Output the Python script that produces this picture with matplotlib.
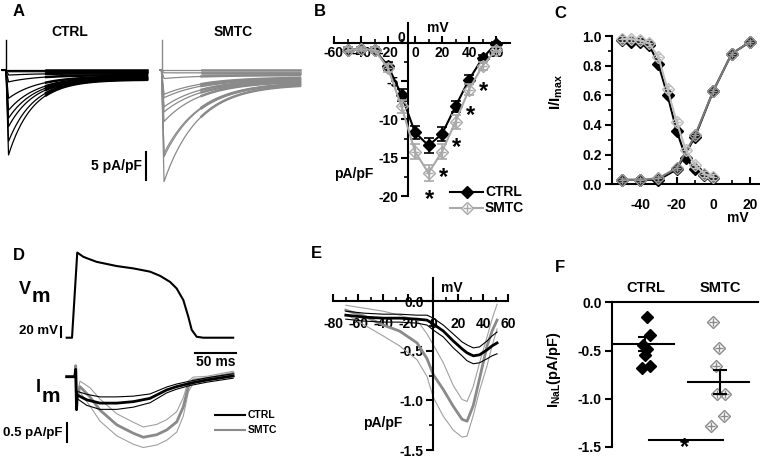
import numpy as np
import matplotlib
matplotlib.use('Agg')
import matplotlib.pyplot as plt
from matplotlib.lines import Line2D

W, H = 760, 458

# ---------------- data ----------------
# A: Na current families (pA/pF), one entry per trace
a_ctrl_peak = [0, 0.3, 0.9, 2.1, 5.0, 7.1, 8.5, 10.0, 12.6, 15.0]
a_ctrl_late = [0, 0.3, 0.6, 0.9, 1.1, 1.3, 1.4, 1.5, 1.6, 1.7]
a_ctrl_tau = [30, 30, 30, 30, 30, 28, 27, 26, 25, 24]
a_smtc_peak = [0, 0.5, 1.5, 4.3, 4.9, 6.5, 7.4, 9.1, 14.7, 15.3, 19.7]
a_smtc_late = [0, 0.5, 0.9, 1.3, 1.5, 1.7, 1.9, 2.0, 2.2, 2.3, 2.5]
a_smtc_tau = [40, 40, 40, 40, 40, 38, 38, 37, 36, 35, 34]

# B: I-V relation
b_mv = [-50, -40, -30, -20, -10, 0, 10, 20, 30, 40, 50, 60]
b_ctrl = [-0.9, -0.8, -0.9, -3.0, -6.8, -11.7, -13.4, -11.9, -8.3, -4.8, -2.0, -0.1]
b_ctrl_err = [0.3, 0.3, 0.3, 0.5, 0.8, 0.9, 1.0, 0.9, 0.7, 0.6, 0.4, 0.2]
b_smtc = [-0.9, -0.8, -0.9, -3.3, -8.3, -14.2, -17.0, -14.2, -10.3, -6.1, -3.0, -0.9]
b_smtc_err = [0.3, 0.3, 0.3, 0.5, 0.9, 1.0, 1.0, 1.0, 0.9, 0.7, 0.5, 0.3]
b_sig_mv = [10, 20, 30, 40, 50]

# C: steady-state inactivation and activation
c_inact_mv = [-50, -45, -40, -35, -30, -25, -20, -15, -10, -5, 0]
c_inact_ctrl = [0.97, 0.96, 0.96, 0.94, 0.81, 0.60, 0.36, 0.18, 0.10, 0.06, 0.04]
c_inact_smtc = [0.98, 0.98, 0.97, 0.95, 0.86, 0.64, 0.42, 0.23, 0.13, 0.07, 0.05]
c_act_mv = [-50, -40, -30, -20, -10, 0, 10, 20]
c_act_ctrl = [0.03, 0.03, 0.03, 0.10, 0.32, 0.63, 0.88, 0.96]
c_act_smtc = [0.03, 0.03, 0.04, 0.11, 0.33, 0.63, 0.88, 0.96]

# D: action potential clamp (ms, mV) and late current (pA/pF)
d_ap_t = [0, 6.5, 12.9, 20.2, 24.4, 36.6, 61, 81.2, 101.6, 113.8, 126, 134, 142.2, 148.3,
          152.4, 158.5, 166.6, 203]
d_ap_v = [-85, -85, 98, 89, 86, 78, 69, 64, 57, 48, 35, 21, -4, -40, -68, -83, -85, -85]
d_ctrl_t = [0, 10, 11, 12, 13, 24.4, 40.6, 61, 81.2, 101.6, 122, 134, 150.4, 170.7, 203]
d_ctrl_i = [0, 0, 0.2, -0.9, -0.5, -0.63, -0.72, -0.72, -0.68, -0.59, -0.36, -0.27, -0.18,
            -0.09, 0.02]
d_ctrl_sem = [0, 0, 0, 0, 0.1, 0.15, 0.17, 0.17, 0.15, 0.12, 0.08, 0.07, 0.06, 0.06, 0.06]
d_smtc_t = [0, 10, 11, 12, 16.2, 28.4, 40.6, 61, 81.2, 93.4, 109.8, 122, 134.2, 142.2,
            148.3, 154.4, 170.7, 203]
d_smtc_i = [0, 0, 0.3, -0.6, -0.27, -0.55, -0.91, -1.31, -1.54, -1.65, -1.58, -1.45, -1.23,
            -0.82, -0.27, -0.09, -0.05, 0.09]
d_smtc_sem = [0, 0, 0, 0, 0.15, 0.25, 0.3, 0.3, 0.3, 0.28, 0.28, 0.28, 0.28, 0.25, 0.15,
              0.08, 0.06, 0.06]

# E: ramp I-V of late current
e_mv = [-70, -55, -40, -27, -13, -5, 0, 8, 16, 23, 27, 32, 37, 43, 47, 51]
e_ctrl = [-0.14, -0.16, -0.17, -0.17, -0.18, -0.19, -0.23, -0.30, -0.40, -0.48, -0.52, -0.55,
          -0.54, -0.49, -0.45, -0.42]
e_ctrl_sem = [0.04, 0.04, 0.04, 0.04, 0.04, 0.05, 0.06, 0.06, 0.07, 0.07, 0.08, 0.08, 0.08,
              0.09, 0.10, 0.11]
e_smtc = [-0.09, -0.15, -0.24, -0.30, -0.42, -0.58, -0.74, -0.89, -1.06, -1.19, -1.21, -1.05,
          -0.78, -0.45, -0.30, -0.19]
e_smtc_hi = [-0.04, -0.07, -0.10, -0.14, -0.19, -0.33, -0.44, -0.62, -0.85, -0.99, -1.01,
             -0.86, -0.62, -0.36, -0.18, -0.03]
e_smtc_lo = [-0.13, -0.24, -0.35, -0.45, -0.59, -0.76, -0.97, -1.16, -1.30, -1.37, -1.36,
             -1.15, -0.90, -0.65, -0.45, -0.28]

# F: late current per cell
f_groups = ['CTRL', 'SMTC']
f_ctrl = [-0.15, -0.34, -0.44, -0.48, -0.55, -0.66, -0.68]
f_ctrl_jit = [0.02, 0.06, -0.03, 0.02, 0.0, 0.06, -0.05]
f_smtc = [-0.20, -0.47, -0.66, -0.95, -0.955, -1.18, -1.285]
f_smtc_jit = [-0.10, -0.015, -0.065, -0.04, 0.06, 0.05, -0.13]
f_mean = [-0.43, -0.825]
f_sem = [0.075, 0.125]

GREY = '#8a8a8a'
LGREY = '#a8a8a8'

plt.rcParams['font.family'] = ['Liberation Sans', 'DejaVu Sans']
plt.rcParams['font.weight'] = 'bold'
plt.rcParams['font.size'] = 10
plt.rcParams['axes.linewidth'] = 1.5
plt.rcParams['axes.unicode_minus'] = False
plt.rcParams['mathtext.fontset'] = 'custom'
plt.rcParams['mathtext.rm'] = 'Liberation Sans:bold'
plt.rcParams['mathtext.it'] = 'Liberation Sans:bold'
plt.rcParams['mathtext.bf'] = 'Liberation Sans:bold'

fig = plt.figure(figsize=(7.6, 4.58), dpi=100)


def px_axes(l, t, r, b):
    ax = fig.add_axes([l / W, 1 - b / H, (r - l) / W, (b - t) / H])
    ax.patch.set_alpha(0)
    return ax


def ptext(x, y, s, **kw):
    kw.setdefault('ha', 'center')
    kw.setdefault('va', 'center')
    fig.text(x / W, 1 - y / H, s, **kw)


def pline(xs, ys, **kw):
    fig.add_artist(Line2D([x / W for x in xs], [1 - y / H for y in ys], **kw))


def smtc_marker(ax, x, y, color, ms=6, **kw):
    ax.plot(x, y, ls='none', marker='D', ms=ms, mfc='none', mec=color, mew=1.0, **kw)
    ax.plot(x, y, ls='none', marker='+', ms=ms, mec=color, mew=1.0, **kw)


# ---------------- A ----------------
def draw_family(ax, t, t0, peaks, lates, taus, color):
    for pk, lt, tau in zip(peaks, lates, taus):
        y = np.zeros_like(t)
        rise = 2.5
        up = (t >= t0) & (t < t0 + rise)
        y[up] = -pk * (t[up] - t0) / rise
        dec = t >= t0 + rise
        y[dec] = -(pk - lt) * np.exp(-(t[dec] - t0 - rise) / tau) - lt
        ax.plot(t, y, color=color, lw=0.9)
        tail = t > t0 + 40
        ax.plot(t[tail], y[tail], color=color, lw=1.8)
    ax.plot([t0, t0], [0, 5.3], color=color, lw=1.0)


axA1 = px_axes(0, 35, 150, 195)
axA1.set_xlim(0, 150)
axA1.set_ylim(-22.05, 6.17)
axA1.axis('off')
draw_family(axA1, np.linspace(2, 147, 800), 6, a_ctrl_peak, a_ctrl_late, a_ctrl_tau, 'black')
axA1.plot([145.7, 145.7], [-14.4, -19.4], color='black', lw=1.5)

axA2 = px_axes(150, 35, 310, 195)
axA2.set_xlim(0, 160)
axA2.set_ylim(-22.05, 6.17)
axA2.axis('off')
draw_family(axA2, np.linspace(10, 150, 800), 11.5, a_smtc_peak, a_smtc_late, a_smtc_tau, GREY)

ptext(19, 11.5, 'A', fontsize=12)
ptext(70, 32, 'CTRL', fontsize=10)
ptext(233, 32, 'SMTC', fontsize=10)
ptext(142, 166, '5 pA/pF', fontsize=10, ha='right')

# ---------------- B ----------------
axB = px_axes(334, 23, 509.5, 196)
axB.set_xlim(-60, 70)
axB.set_ylim(-20, 2.6)
axB.spines['top'].set_visible(False)
axB.spines['right'].set_visible(False)
axB.spines['left'].set_position(('data', -5))
axB.spines['bottom'].set_position(('data', 0))
axB.set_xticks(range(-60, 61, 20))
axB.set_xticks(range(-50, 70, 20), minor=True)
axB.set_yticks([-20, -15, -10, -5, 0])
axB.set_yticklabels(['-20', '-15', '-10', '-5', ''])
axB.set_yticks(np.arange(-17.5, 2, 5), minor=True)
axB.tick_params(axis='x', which='major', direction='in', length=5, width=1.5, pad=2)
axB.tick_params(axis='x', which='minor', direction='in', length=3, width=1.2)
axB.tick_params(axis='y', which='major', direction='out', length=5, width=1.5, pad=2)
axB.tick_params(axis='y', which='minor', direction='out', length=3, width=1.2)

axB.errorbar(b_mv, b_ctrl, yerr=b_ctrl_err, color='black', marker='D', ms=6, lw=1.5,
             capsize=3.5, elinewidth=1.2, capthick=1.2, zorder=3)
axB.errorbar(b_mv, b_smtc, yerr=b_smtc_err, color=LGREY, lw=1.5, capsize=3.5,
             elinewidth=1.2, capthick=1.2, zorder=4)
smtc_marker(axB, b_mv, b_smtc, LGREY, zorder=5)
for mv in b_sig_mv:
    yv = b_smtc[b_mv.index(mv)]
    axB.text(mv + 1, yv - 3.4, '*', fontsize=17, ha='center', va='center')

ptext(320, 12, 'B', fontsize=12)
ptext(401, 38, '0', fontsize=10)
ptext(437.5, 28, 'mV', fontsize=10)
ptext(353.5, 174, 'pA/pF', fontsize=10)
pline([450, 483], [191.5, 191.5], color='black', lw=1.5)
fig.add_artist(Line2D([466.5 / W], [1 - 191.5 / H], color='black', marker='D', ms=6, ls='none'))
ptext(485, 191.5, 'CTRL', fontsize=10, ha='left')
pline([450, 483], [208.5, 208.5], color=LGREY, lw=1.5)
fig.add_artist(Line2D([466.5 / W], [1 - 208.5 / H], color=LGREY, marker='D', ms=6, mfc='white',
                      mew=1.0, ls='none'))
fig.add_artist(Line2D([466.5 / W], [1 - 208.5 / H], color=LGREY, marker='+', ms=6, mew=1.0,
                      ls='none'))
ptext(485, 208.5, 'SMTC', fontsize=10, ha='left')

# ---------------- C ----------------
axC = px_axes(611.7, 36, 760, 184.3)
axC.set_xlim(-55.5, 25.5)
axC.set_ylim(0, 1.0)
axC.spines['top'].set_visible(False)
axC.spines['right'].set_visible(False)
axC.set_xticks([-40, -20, 0, 20])
axC.set_xticks([-50, -30, -10, 10], minor=True)
axC.set_yticks(np.arange(0, 1.01, 0.2))
axC.set_yticks(np.arange(0.1, 1.0, 0.2), minor=True)
axC.tick_params(axis='x', which='major', direction='in', length=5, width=1.5, pad=10)
axC.tick_params(axis='x', which='minor', direction='in', length=3, width=1.2)
axC.tick_params(axis='y', which='major', direction='out', length=5, width=1.5, pad=2)
axC.tick_params(axis='y', which='minor', direction='out', length=3, width=1.2)

ekw = dict(capsize=2.5, elinewidth=1.0, capthick=1.0, clip_on=False)
axC.errorbar(c_inact_mv, c_inact_ctrl, yerr=0.02, color='black', marker='D', ms=6, lw=1.5,
             zorder=3, **ekw)
axC.errorbar(c_act_mv, c_act_ctrl, yerr=0.015, color='black', marker='D', ms=6, lw=1.5,
             zorder=3, **ekw)
axC.errorbar(c_inact_mv, c_inact_smtc, yerr=0.02, color='#bdbdbd', lw=1.5, zorder=4, **ekw)
axC.errorbar(c_act_mv, c_act_smtc, yerr=0.015, color='#7a7a7a', lw=1.5, zorder=4, **ekw)
smtc_marker(axC, c_inact_mv, c_inact_smtc, '#bdbdbd', clip_on=False, zorder=5)
smtc_marker(axC, c_act_mv, c_act_smtc, '#9a9a9a', clip_on=False, zorder=5)

ptext(560, 13, 'C', fontsize=12)
ptext(556, 92, 'I/I$_{max}$', fontsize=11, rotation=90)
ptext(738, 218, 'mV', fontsize=10)

# ---------------- D ----------------
axDv = px_axes(0, 240, 250, 360)
axDv.set_xlim(-81.3, 223.5)
axDv.set_ylim(-132.9, 125)
axDv.axis('off')
axDv.plot(d_ap_t, d_ap_v, color='black', lw=1.5)
axDv.plot([-7.0, -7.0], [-83, -63], color='black', lw=1.5)
axDv.plot([156.5, 206.5], [-117.3, -117.3], color='black', lw=1.5)

axDi = px_axes(0, 360, 250, 458)
axDi.set_xlim(-81.3, 223.5)
axDi.set_ylim(-2.215, 0.455)
axDi.axis('off')
dct = np.array(d_ctrl_i)
dcs = np.array(d_ctrl_sem)
dst = np.array(d_smtc_i)
dss = np.array(d_smtc_sem)
axDi.plot(d_smtc_t, dst + dss, color='#a0a0a0', lw=0.8)
axDi.plot(d_smtc_t, dst - dss, color='#a0a0a0', lw=0.8)
axDi.plot(d_smtc_t, dst, color=GREY, lw=2.0)
axDi.plot(d_ctrl_t, dct + dcs, color='black', lw=0.8)
axDi.plot(d_ctrl_t, dct - dcs, color='black', lw=0.8)
axDi.plot(d_ctrl_t, dct, color='black', lw=2.0)
axDi.plot([0, 0], [-1.27, -1.77], color='black', lw=1.5)

ptext(18.5, 255.5, 'D', fontsize=12)
ptext(24.5, 289, 'V', fontsize=13)
ptext(40.5, 296, 'm', fontsize=15)
ptext(37.8, 388, 'I', fontsize=13)
ptext(50.5, 397, 'm', fontsize=15)
ptext(58, 331, '20 mV', fontsize=9.5, ha='right')
ptext(215.5, 362, '50 ms', fontsize=10)
ptext(63, 433, '0.5 pA/pF', fontsize=9.5, ha='right')
pline([215, 245], [415, 415], color='black', lw=1.5)
ptext(248, 415, 'CTRL', fontsize=7.5, ha='left')
pline([215, 245], [430, 430], color=GREY, lw=1.5)
ptext(248, 430, 'SMTC', fontsize=7.5, ha='left')

# ---------------- E ----------------
axE = px_axes(333.3, 278, 508.3, 450)
axE.set_xlim(-80, 60)
axE.set_ylim(-1.5, 0.235)
axE.spines['top'].set_visible(False)
axE.spines['right'].set_visible(False)
axE.spines['left'].set_position(('data', 0))
axE.spines['bottom'].set_position(('data', 0))
axE.set_xticks(range(-80, 61, 20))
axE.set_xticks(range(-70, 60, 20), minor=True)
axE.set_yticks([-1.5, -1.0, -0.5, 0.0])
axE.set_yticks([-1.25, -0.75, -0.25], minor=True)
axE.tick_params(axis='x', which='major', direction='in', length=5, width=1.5, pad=11)
axE.tick_params(axis='x', which='minor', direction='in', length=3, width=1.2)
axE.tick_params(axis='y', which='major', direction='out', length=5, width=1.5, pad=2)
axE.tick_params(axis='y', which='minor', direction='out', length=3, width=1.2)
ect = np.array(e_ctrl)
ecs = np.array(e_ctrl_sem)
axE.plot(e_mv, e_smtc_hi, color='#a0a0a0', lw=0.8)
axE.plot(e_mv, e_smtc_lo, color='#a0a0a0', lw=0.8)
axE.plot(e_mv, e_smtc, color=GREY, lw=2.0)
axE.plot(e_mv, ect + ecs, color='black', lw=0.8)
axE.plot(e_mv, ect - ecs, color='black', lw=0.8)
axE.plot(e_mv, ect, color='black', lw=2.0)

ptext(316, 253, 'E', fontsize=12)
ptext(451.5, 288, 'mV', fontsize=10)
ptext(383, 423, 'pA/pF', fontsize=10)

# ---------------- F ----------------
axF = px_axes(611.7, 302.3, 758, 447)
axF.set_ylim(-1.5, 0)
axF.set_xlim(0.55, 2.5)
axF.spines['right'].set_visible(False)
axF.spines['bottom'].set_visible(False)
axF.xaxis.tick_top()
axF.set_xticks([1, 2])
axF.set_xticklabels(f_groups, fontsize=10.5)
axF.tick_params(axis='x', length=0, pad=5)
axF.set_yticks([-1.5, -1.0, -0.5, 0.0])
axF.tick_params(axis='y', direction='out', length=5, width=1.5, pad=2)

axF.plot(1 + np.array(f_ctrl_jit), f_ctrl, ls='none', marker='D', ms=6, color='black',
         clip_on=False, zorder=3)
smtc_marker(axF, 2 + np.array(f_smtc_jit), f_smtc, GREY, ms=6, zorder=3)
for i, (m, s) in enumerate(zip(f_mean, f_sem)):
    xc = i + 1
    axF.plot([xc - 0.43, xc + 0.38], [m, m], color='black', lw=1.5, zorder=4)
    axF.errorbar([xc], [m], yerr=[s], color='black', capsize=5, elinewidth=1.5, capthick=1.5,
                 zorder=4)
axF.plot([1.05, 2.03], [-1.424, -1.424], color='black', lw=1.5, clip_on=False)

ptext(560, 267, 'F', fontsize=12)
ptext(554, 370, 'I$_{NaL}$(pA/pF)', fontsize=10.5, rotation=90)
ptext(685, 458, '$*$', fontsize=17, va='bottom')

fig.savefig('out.png', dpi=100)
